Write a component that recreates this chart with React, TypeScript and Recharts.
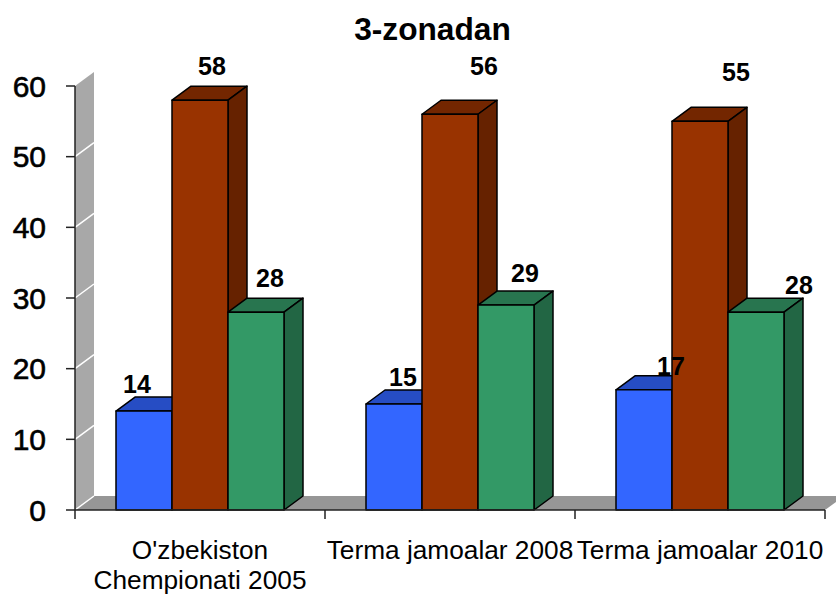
import React from "react";
import {
  Bar,
  ComposedChart,
  LabelList,
  Line,
  ReferenceArea,
  XAxis,
  YAxis,
} from "recharts";

const categories = [
  ["O'zbekiston", "Chempionati 2005"],
  ["Terma jamoalar 2008"],
  ["Terma jamoalar 2010"],
];
const blueValues = [14, 15, 17];
const redValues = [58, 56, 55];
const greenValues = [28, 29, 28];
const yTicks = [0, 10, 20, 30, 40, 50, 60];

// hand placed label offsets from the category centre / value point
const blueOffsets = [[-63, -18], [-47, -18], [-29, -15]];
const redOffsets = [[12, -25], [34, -39], [36, -40]];
const greenOffsets = [[70, -25], [75, -23], [99, -18]];

const WIDTH = 836;
const HEIGHT = 594;
const DEPTH_X = 19;
const DEPTH_Y = 14;
const FONT = "'Liberation Sans', Arial, sans-serif";

const chartData = categories.map((lines, i) => ({
  name: lines.join(" "),
  blue: blueValues[i],
  red: redValues[i],
  green: greenValues[i],
}));

const bar3d = (front: string, top: string, side: string) => (props: any) => {
  const { x, y, width, height } = props;
  const bottom = y + height;
  const right = x + width;
  return (
    <g stroke="#000" strokeWidth={1.5} strokeLinejoin="round">
      <polygon
        fill={top}
        points={`${x},${y} ${x + DEPTH_X},${y - DEPTH_Y} ${right + DEPTH_X},${y - DEPTH_Y} ${right},${y}`}
      />
      <polygon
        fill={side}
        points={`${right},${y} ${right + DEPTH_X},${y - DEPTH_Y} ${right + DEPTH_X},${bottom - DEPTH_Y} ${right},${bottom}`}
      />
      <rect x={x} y={y} width={width} height={height} fill={front} />
    </g>
  );
};

const BackWalls = (props: any) => {
  const { x, y, width, height } = props;
  const bottom = y + height;
  return (
    <g>
      <polygon
        fill="#a8a8a8"
        points={`${x},${bottom} ${x + DEPTH_X},${bottom - DEPTH_Y} ${x + DEPTH_X},${y - DEPTH_Y} ${x},${y}`}
      />
      <polygon
        fill="#969696"
        points={`${x},${bottom} ${x + DEPTH_X},${bottom - DEPTH_Y} ${x + width + DEPTH_X},${bottom - DEPTH_Y} ${x + width},${bottom}`}
      />
      {yTicks.slice(0, -1).map((t) => {
        const ty = bottom - (height * t) / 60;
        return (
          <line
            key={t}
            x1={x}
            y1={ty}
            x2={x + DEPTH_X}
            y2={ty - DEPTH_Y}
            stroke="#fff"
            strokeWidth={1.5}
          />
        );
      })}
    </g>
  );
};

const CategoryTick = (props: any) => {
  const { x, y, index } = props;
  const band = 250;
  const axisY = y - 8;
  const lines = categories[index];
  return (
    <g>
      <line x1={x - band / 2} y1={axisY} x2={x - band / 2} y2={axisY + 9} stroke="#222" strokeWidth={1.5} />
      {index === categories.length - 1 && (
        <line x1={x + band / 2} y1={axisY} x2={x + band / 2} y2={axisY + 9} stroke="#222" strokeWidth={1.5} />
      )}
      {lines.map((line, i) => (
        <text
          key={line}
          transform={`translate(${x} ${axisY + 49 + i * 30}) scale(1.05 1)`}
          textAnchor="middle"
          fontFamily={FONT}
          fontSize={25}
          fill="#000"
        >
          {line}
        </text>
      ))}
    </g>
  );
};

const valueLabel = (values: number[], offsets: number[][]) => (props: any) => {
  const { x, y, index } = props;
  return (
    <text
      x={x + offsets[index][0]}
      y={y + offsets[index][1]}
      textAnchor="middle"
      fontFamily={FONT}
      fontWeight="bold"
      fontSize={25}
      fill="#000"
    >
      {values[index]}
    </text>
  );
};

export default function App() {
  return (
    <div style={{ position: "absolute", left: 0, top: 0, width: WIDTH, height: HEIGHT }}>
      <div
        style={{
          position: "absolute",
          left: 0,
          width: 865,
          top: 9,
          textAlign: "center",
          fontFamily: FONT,
          fontWeight: "bold",
          fontSize: 31.7,
          lineHeight: "40px",
          color: "#000",
        }}
      >
        3-zonadan
      </div>
      <ComposedChart
        width={WIDTH}
        height={HEIGHT}
        data={chartData}
        margin={{ top: 86, right: 11, bottom: 0, left: 0 }}
        barGap={0}
        barCategoryGap="16.4%"
      >
        <ReferenceArea y1={0} y2={60} shape={BackWalls} />
        <XAxis
          dataKey="name"
          height={84}
          axisLine={{ stroke: "#222", strokeWidth: 1.5 }}
          tickLine={false}
          interval={0}
          tick={CategoryTick}
        />
        <YAxis
          width={75}
          domain={[0, 60]}
          ticks={yTicks}
          tickSize={9}
          tickMargin={20}
          axisLine={{ stroke: "#222", strokeWidth: 1.5 }}
          tickLine={{ stroke: "#222", strokeWidth: 1.5 }}
          tick={{ fontFamily: FONT, fontSize: 30, fill: "#000", stroke: "#000", strokeWidth: 0.6 }}
        />
        <Bar dataKey="blue" isAnimationActive={false} shape={bar3d("#3366ff", "#264dc4", "#1f3fa0")} />
        <Bar dataKey="red" isAnimationActive={false} shape={bar3d("#993300", "#732600", "#662200")} />
        <Bar dataKey="green" isAnimationActive={false} shape={bar3d("#339966", "#28754f", "#226644")} />
        <Line dataKey="blue" stroke="none" dot={false} activeDot={false} isAnimationActive={false} legendType="none">
          <LabelList dataKey="blue" content={valueLabel(blueValues, blueOffsets)} />
        </Line>
        <Line dataKey="red" stroke="none" dot={false} activeDot={false} isAnimationActive={false} legendType="none">
          <LabelList dataKey="red" content={valueLabel(redValues, redOffsets)} />
        </Line>
        <Line dataKey="green" stroke="none" dot={false} activeDot={false} isAnimationActive={false} legendType="none">
          <LabelList dataKey="green" content={valueLabel(greenValues, greenOffsets)} />
        </Line>
      </ComposedChart>
    </div>
  );
}
